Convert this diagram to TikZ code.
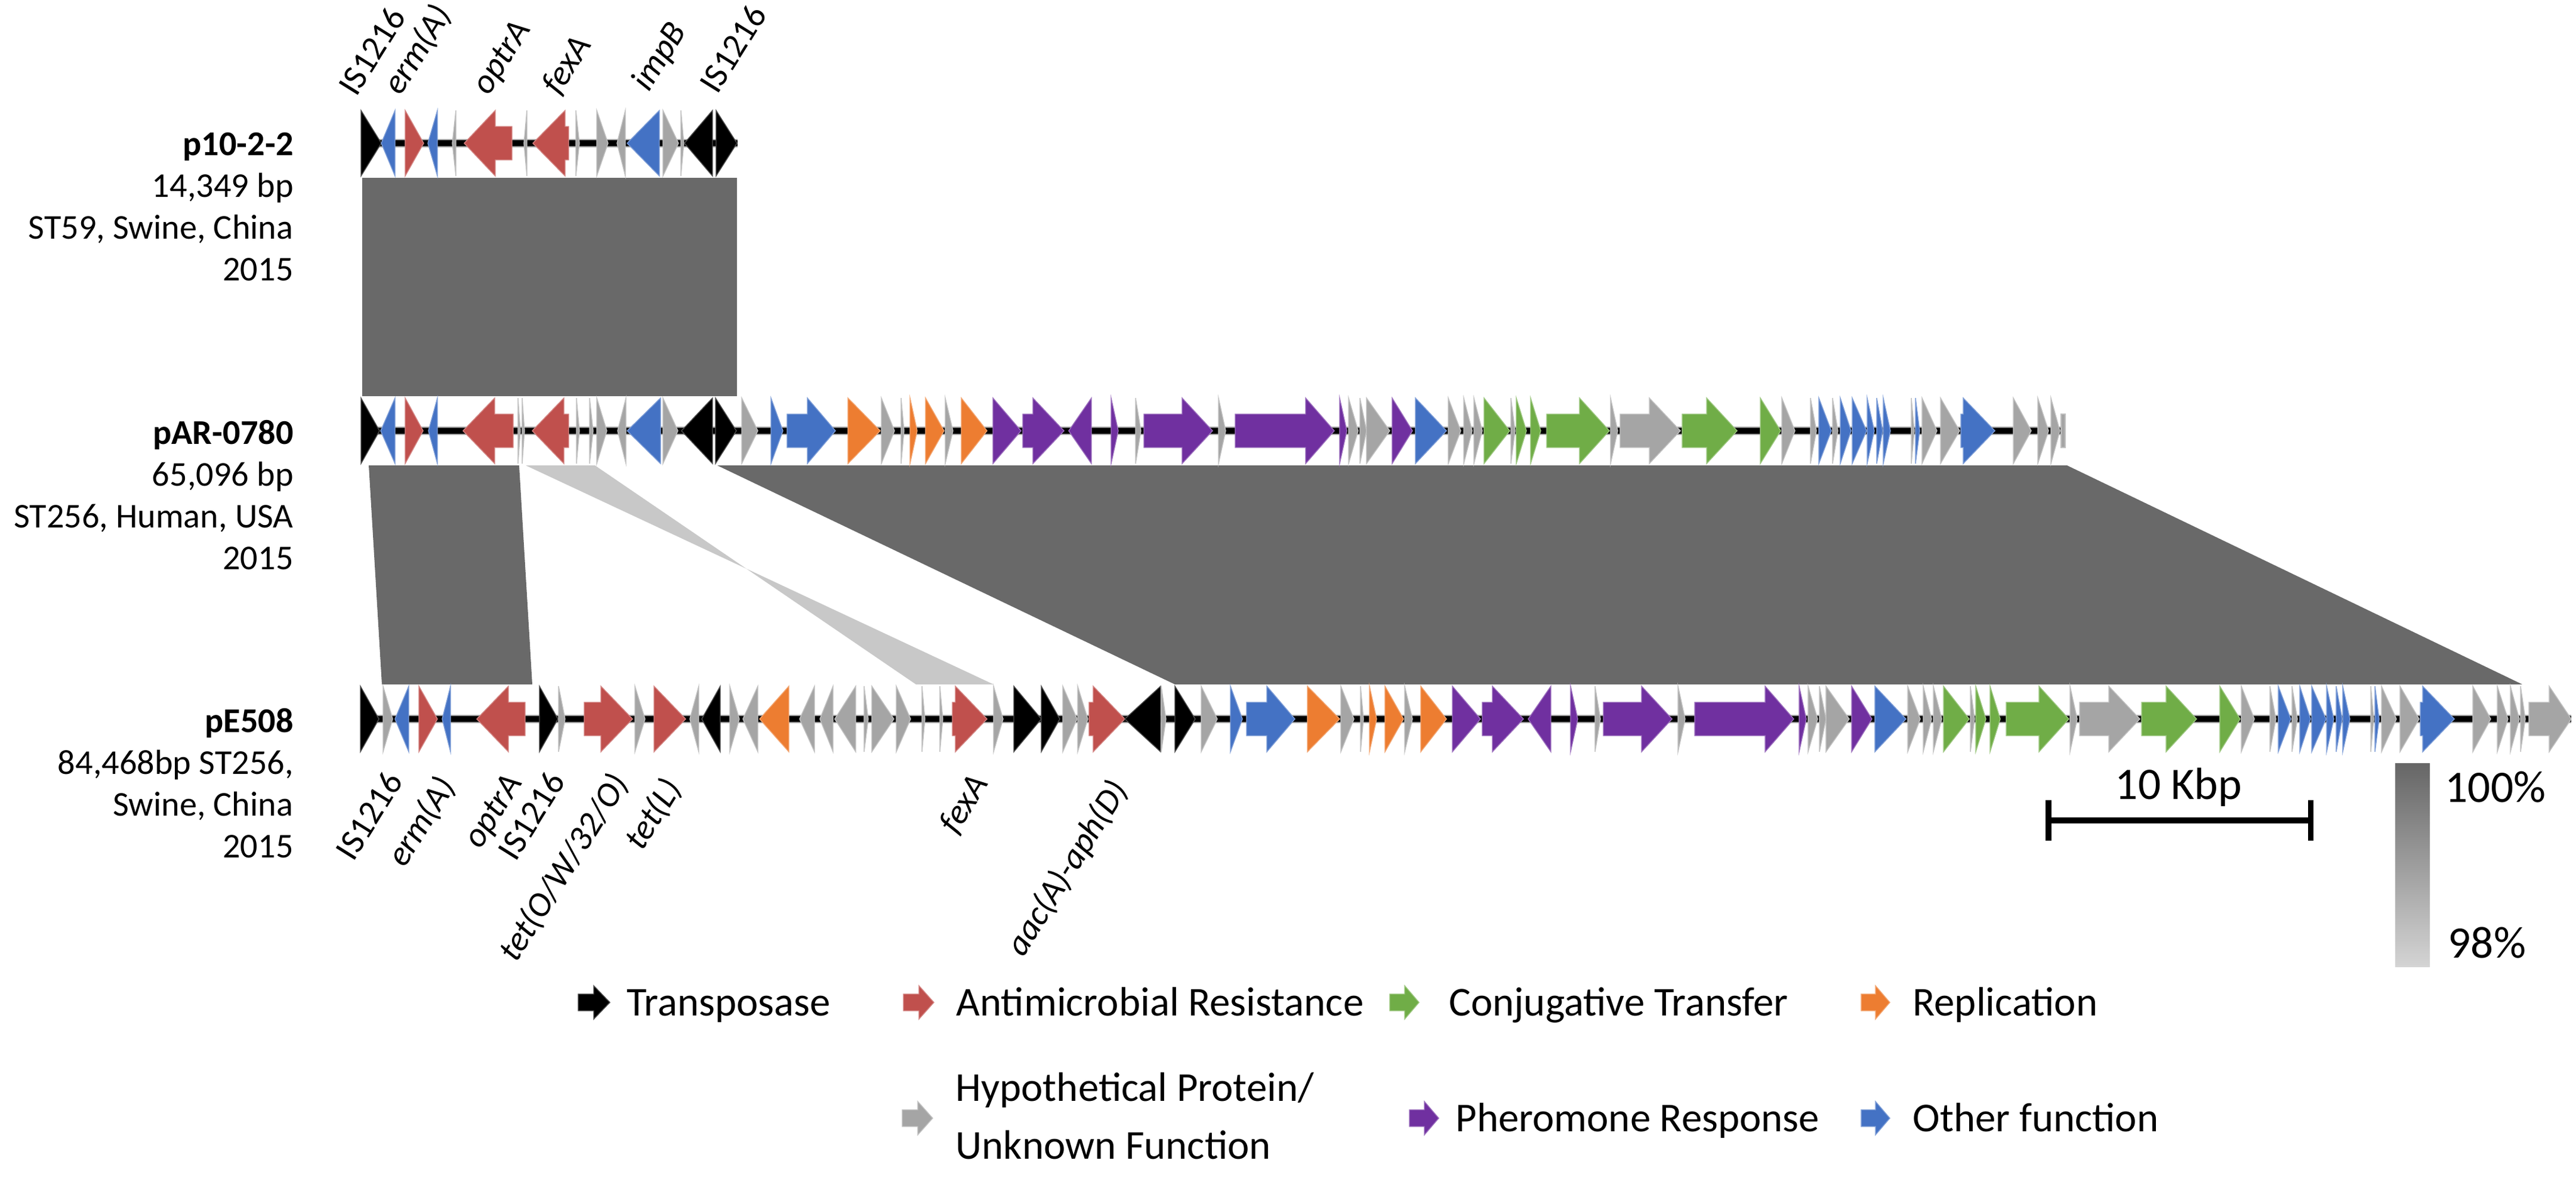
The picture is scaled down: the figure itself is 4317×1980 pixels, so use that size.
\documentclass[tikz,border=0pt]{standalone}
\usepackage{fontspec}
\setmainfont{Carlito}
\usetikzlibrary{positioning}
\definecolor{amr}{HTML}{C0504D}
\definecolor{conj}{HTML}{70AD47}
\definecolor{repl}{HTML}{ED7D31}
\definecolor{hypo}{HTML}{A5A5A5}
\definecolor{pher}{HTML}{7030A0}
\definecolor{othr}{HTML}{4472C4}
\definecolor{hitdark}{HTML}{696969}
\definecolor{hitlight}{HTML}{C8C8C8}
\definecolor{identtop}{HTML}{666666}
\definecolor{identbot}{HTML}{D4D4D4}
\newcommand\infofont{\fontsize{8.3}{9.96}\selectfont}
\newcommand\keyfont{\fontsize{9.8}{13.8}\selectfont}
\newcommand\barfont{\fontsize{10.75}{12}\selectfont}
\tikzset{
	track y/.store in=\trky,
	track y=0,
	head size/.store in=\hsz,
	head size=55,
	shaft size/.store in=\ssz,
	shaft size=28,
	gene/.style={
		fill=#1,
		draw=#1!70!white,
		line width=.2pt
	},
	backbone/.style={
		draw=hypo,
		line width=2pt,
		postaction={draw=black, line width=1.4pt}
	},
	hit/.style={fill=hitdark},
	weak hit/.style={fill=hitlight},
	info/.style={
		font=\infofont,
		align=right,
		inner sep=0pt,
		anchor=north east
	},
	gene label/.style={
		font=\infofont,
		inner sep=0pt,
		rotate=58
	},
	key/.style={
		font=\keyfont,
		inner sep=0pt,
		anchor=base west
	},
	bar label/.style={font=\barfont, inner sep=0pt},
	bar/.style={draw=black, line width=1.3pt},
}
% blunt end, head base, tip
\newcommand\gene[4]{\filldraw[gene=#1] (#2,\trky-\ssz) -- (#3,\trky-\ssz) -- (#3,\trky-\hsz) -- (#4,\trky) -- (#3,\trky+\hsz) -- (#3,\trky+\ssz) -- (#2,\trky+\ssz) -- cycle;}
\newcommand\orf[3]{\gene{#1}{#2}{#2}{#3}}
% genes shared by pAR-0780 and pE508 (pAR-0780 positions)
\newcommand\sharedgenes{%
	\orf{hypo}{1243}{1270}
	\orf{othr}{1292}{1312}
	\gene{othr}{1319}{1353}{1400}
	\orf{repl}{1421}{1475}
	\orf{hypo}{1477}{1499}
	\orf{hypo}{1510}{1515}
	\orf{repl}{1525}{1537}
	\orf{repl}{1551}{1582}
	\orf{hypo}{1584}{1597}
	\orf{repl}{1611}{1654}
	\orf{pher}{1664}{1711}
	\gene{pher}{1714}{1731}{1783}
	\orf{pher}{1829}{1791}
	\orf{pher}{1862}{1874}
	\orf{hypo}{1903}{1912}
	\gene{pher}{1917}{1981}{2032}
	\orf{hypo}{2042}{2054}
	\gene{pher}{2070}{2188}{2236}
	\orf{pher}{2245}{2257}
	\orf{hypo}{2260}{2276}
	\orf{hypo}{2279}{2290}
	\orf{hypo}{2290}{2329}
	\orf{pher}{2333}{2367}
	\orf{othr}{2372}{2424}
	\orf{hypo}{2427}{2448}
	\orf{hypo}{2453}{2467}
	\orf{hypo}{2470}{2484}
	\orf{conj}{2487}{2530}
	\orf{hypo}{2532}{2539}
	\orf{conj}{2541}{2558}
	\orf{conj}{2565}{2582}
	\gene{conj}{2592}{2647}{2697}
	\orf{hypo}{2699}{2711}
	\gene{hypo}{2715}{2764}{2816}
	\gene{conj}{2819}{2860}{2911}
	\orf{conj}{2950}{2984}
	\orf{hypo}{2986}{3008}
	\orf{hypo}{3034}{3044}
	\orf{othr}{3048}{3069}
	\orf{hypo}{3071}{3080}
	\orf{othr}{3084}{3102}
	\orf{othr}{3104}{3128}
	\orf{othr}{3129}{3141}
	\orf{othr}{3145}{3155}
	\orf{othr}{3156}{3168}
	\orf{hypo}{3203}{3208}
	\orf{othr}{3210}{3217}
	\orf{hypo}{3221}{3246}
	\orf{hypo}{3252}{3284}
	\gene{othr}{3286}{3290}{3343}
	\orf{hypo}{3374}{3404}
	\orf{hypo}{3415}{3433}
	\orf{hypo}{3437}{3452}
}
\begin{document}
\begin{tikzpicture}[x=0.005cm, y=-0.005cm]
	\useasboundingbox (0,0) rectangle (4317,1980);
%
	\fill[hit]      (607,298)  -- (1235,298) -- (1235,664)  -- (607,664)  -- cycle;
	\fill[hit]      (618,780)  -- (870,780)  -- (892,1147)  -- (640,1147) -- cycle;
	\fill[weak hit] (881,780)  -- (997,780)  -- (1535,1147) -- (1665,1147) -- cycle;
	\fill[hit]      (1202,780) -- (3464,780) -- (4227,1147) -- (1969,1147) -- cycle;
%
	\coordinate (p10s) at (605,240);
	\coordinate (p10e) at (1236,240);
	\coordinate (pARs) at (605,722);
	\coordinate (pARe) at (3462,722);
	\coordinate (pEs)  at (604,1205);
	\coordinate (pEe)  at (4309,1205);
	\draw[backbone] (p10s) -- (p10e);
	\draw[backbone] (pARs) -- (pARe);
	\draw[backbone] (pEs) -- (pEe);
%
	\begin{scope}[track y=240]
		\orf{black}{605}{639}
		\orf{othr}{662}{639}
		\orf{amr}{679}{710}
		\orf{othr}{733}{717}
		\orf{hypo}{764}{758}
		\gene{amr}{858}{830}{778}
		\orf{hypo}{883}{878}
		\gene{amr}{953}{947}{893}
		\orf{hypo}{965}{971}
		\orf{hypo}{1000}{1019}
		\orf{hypo}{1048}{1034}
		\orf{othr}{1105}{1051}
		\orf{hypo}{1111}{1137}
		\orf{hypo}{1141}{1146}
		\orf{black}{1194}{1147}
		\orf{black}{1200}{1235}
	\end{scope}
%
	\begin{scope}[track y=722]
		\orf{black}{605}{636}
		\orf{othr}{662}{638}
		\orf{amr}{679}{709}
		\orf{othr}{733}{718}
		\gene{amr}{860}{829}{776}
		\orf{hypo}{868}{872}
		\orf{hypo}{875}{879}
		\gene{amr}{953}{945}{892}
		\orf{hypo}{966}{971}
		\orf{hypo}{988}{994}
		\orf{hypo}{1000}{1017}
		\orf{hypo}{1049}{1035}
		\orf{othr}{1107}{1051}
		\orf{hypo}{1111}{1136}
		\orf{black}{1194}{1142}
		\orf{black}{1199}{1234}
		\sharedgenes
		\filldraw[gene=hypo] (3454,\trky-\ssz) rectangle (3461,\trky+\ssz);
	\end{scope}
%
	\begin{scope}[track y=1205]
		\orf{black}{604}{635}
		\orf{hypo}{642}{658}
		\orf{othr}{685}{662}
		\orf{amr}{702}{733}
		\orf{othr}{755}{741}
		\gene{amr}{880}{852}{799}
		\orf{black}{904}{935}
		\orf{hypo}{936}{947}
		\gene{amr}{979}{1007}{1060}
		\orf{hypo}{1064}{1081}
		\orf{amr}{1096}{1149}
		\orf{hypo}{1171}{1156}
		\orf{black}{1207}{1176}
		\orf{hypo}{1223}{1239}
		\orf{hypo}{1270}{1245}
		\orf{repl}{1322}{1273}
		\orf{hypo}{1365}{1340}
		\orf{hypo}{1396}{1374}
		\orf{hypo}{1434}{1399}
		\orf{hypo}{1448}{1455}
		\orf{hypo}{1461}{1498}
		\orf{hypo}{1502}{1526}
		\orf{hypo}{1545}{1550}
		\orf{hypo}{1575}{1580}
		\gene{amr}{1596}{1601}{1654}
		\orf{hypo}{1665}{1681}
		\orf{black}{1699}{1745}
		\orf{black}{1745}{1776}
		\orf{hypo}{1781}{1805}
		\orf{hypo}{1806}{1823}
		\gene{amr}{1825}{1832}{1885}
		\orf{black}{1945}{1885}
		\orf{hypo}{1946}{1954}
		\orf{black}{1969}{2003}
		\begin{scope}[shift={(770,0)}]
			\sharedgenes
		\end{scope}
		\orf{hypo}{4224}{4232}
		\gene{hypo}{4238}{4272}{4309}
	\end{scope}
%
	\node[info] (p10info) at (493,221)  {\textbf{p10-2-2}\\14,349 bp\\ST59, Swine, China\\2015};
	\node[info] (pARinfo) at (493,703)  {\textbf{pAR-0780}\\65,096 bp\\ST256, Human, USA\\2015};
	\node[info] (pEinfo)  at (493,1186) {\textbf{pE508}\\84,468bp ST256,\\Swine, China\\2015};
%
	\node[gene label, anchor=south west] (p10is1) at (598,166)  {IS1216};
	\node[gene label, anchor=south west] (p10erm) at (679,168)  {\textit{erm(A)}};
	\node[gene label, anchor=south west] (p10opt) at (828,168)  {\textit{optrA}};
	\node[gene label, anchor=south west] (p10fex) at (944,167)  {\textit{fexA}};
	\node[gene label, anchor=south west] (p10imp) at (1096,162) {\textit{impB}};
	\node[gene label, anchor=south west] (p10is2) at (1203,162) {IS1216};
%
	\node[gene label, anchor=north east] (pEis1) at (643,1287)  {IS1216};
	\node[gene label, anchor=north east] (pEerm) at (728,1293)  {\textit{erm(A)}};
	\node[gene label, anchor=north east] (pEopt) at (844,1290)  {\textit{optrA}};
	\node[gene label, anchor=north east] (pEis2) at (915,1287)  {IS1216};
	\node[gene label, anchor=north east] (pEtet) at (1018,1288) {\textit{tet(O/W/32/O)}};
	\node[gene label, anchor=north east] (pEtetL) at (1107,1296) {\textit{tet(L)}};
	\node[gene label, anchor=north east] (pEfex) at (1623,1290) {\textit{fexA}};
	\node[gene label, anchor=north east] (pEaac) at (1855,1299) {\textit{aac(A)-aph(D)}};
%
	\coordinate (barL) at (3433,1375);
	\coordinate (barR) at (3872,1375);
	\draw[bar] (barL) -- (barR);
	\draw[bar] (barL) ++(0,-34) -- ++(0,68);
	\draw[bar] (barR) ++(0,-34) -- ++(0,68);
	\node[bar label] (barkbp) at (3651,1319) {10 Kbp};
	\shade[top color=identtop, bottom color=identbot] (4014,1279) rectangle (4072,1620);
	\node[bar label, anchor=west] (pcthi) at (4096,1319) {100\%};
	\node[bar label, anchor=west] (pctlo) at (4101,1580) {98\%};
%
	\begin{scope}[track y=1680, head size=28, shaft size=14]
		\gene{black}{969}{995}{1022}
		\gene{amr}{1514}{1540}{1565}
		\gene{conj}{2329}{2354}{2378}
		\gene{repl}{3119}{3143}{3167}
	\end{scope}
	\begin{scope}[track y=1874, head size=28, shaft size=14]
		\gene{hypo}{1512}{1538}{1563}
		\gene{pher}{2362}{2387}{2411}
		\gene{othr}{3119}{3143}{3167}
	\end{scope}
	\node[key] (keytrn) at (1049,1702) {Transposase};
	\node[key] (keyamr) at (1601,1702) {Antimicrobial Resistance};
	\node[key] (keycon) at (2427,1702) {Conjugative Transfer};
	\node[key] (keyrep) at (3204,1702) {Replication};
	\node[key, anchor=west, align=left] (keyhyp) at (1600,1870) {Hypothetical Protein/\\Unknown Function};
	\node[key] (keyphe) at (2438,1896) {Pheromone Response};
	\node[key] (keyoth) at (3204,1896) {Other function};
\end{tikzpicture}
\end{document}
